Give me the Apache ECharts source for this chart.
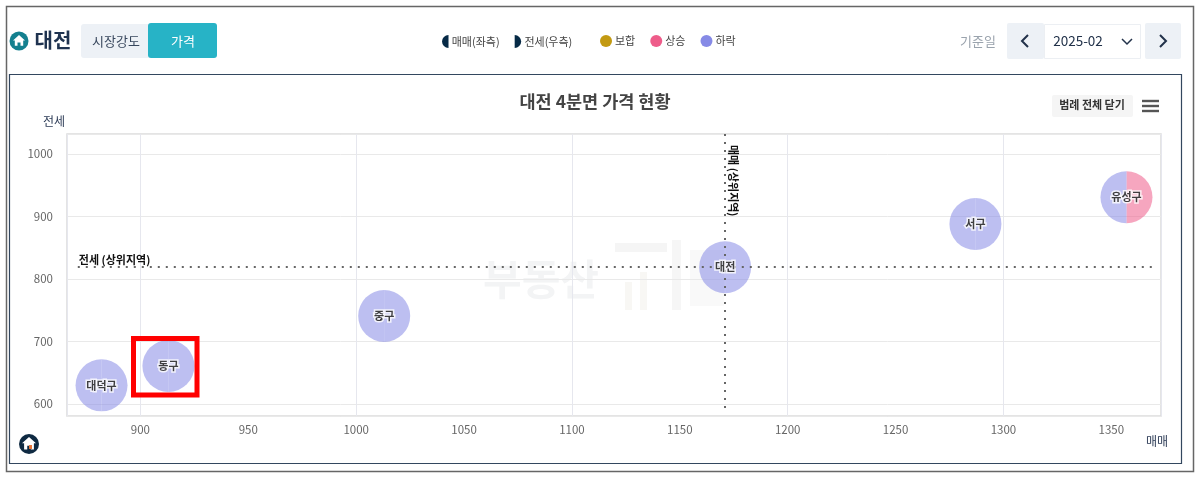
<!DOCTYPE html>
<html>
<head>
<meta charset="utf-8">
<title>대전 4분면 가격 현황</title>
<script src="https://cdn.jsdelivr.net/npm/echarts@6/dist/echarts.min.js"></script>
<style>
html, body { margin: 0; padding: 0; background: #fff; }
#chart { width: 1200px; height: 479px; }
</style>
</head>
<body>
<div id="chart"></div>
<script>
var regionNames = ['대덕구', '동구', '중구', '대전', '서구', '유성구'];
var saleValues = [882, 913, 1013, 1171, 1287, 1357];
var jeonseValues = [630, 661, 741, 819, 888, 931];
var saleStatus = ['하락', '하락', '하락', '하락', '하락', '하락'];
var jeonseStatus = ['하락', '하락', '하락', '하락', '하락', '상승'];
var statusNames = ['보합', '상승', '하락'];
var statusColors = ['#c39a12', '#ee5c8a', '#868ae6'];
var xTicks = [900, 950, 1000, 1050, 1100, 1150, 1200, 1250, 1300, 1350];
var yTicks = [600, 700, 800, 900, 1000];
var saleTop = 1171;
var jeonseTop = 820;

var fontName = '"Noto Sans CJK KR", "Noto Sans", sans-serif';
var navy = '#062a46';

var myChart = echarts.init(document.getElementById('chart'));

// 왼쪽 반원 = 매매, 오른쪽 반원 = 전세
var renderHalf = function(params, api) {
	var c = api.coord([api.value(0), api.value(1)]);
	var isLeft = api.value(2) == 0;
	return {
		type: 'sector',
		shape: {
			cx: c[0],
			cy: c[1],
			r0: 0,
			r: 26,
			startAngle: isLeft ? Math.PI / 2 : -Math.PI / 2,
			endAngle: isLeft ? Math.PI * 1.5 : Math.PI / 2
		},
		style: { fill: api.visual('color'), opacity: 0.55 }
	};
};

var seriesList = [];
for (var s = 0; s < statusNames.length; ++s) {
	var halves = [];
	for (var i = 0; i < regionNames.length; ++i) {
		if (saleStatus[i] == statusNames[s]) halves.push([saleValues[i], jeonseValues[i], 0]);
		if (jeonseStatus[i] == statusNames[s]) halves.push([saleValues[i], jeonseValues[i], 1]);
	}
	seriesList.push({
		name: statusNames[s],
		type: 'custom',
		renderItem: renderHalf,
		itemStyle: { color: statusColors[s] },
		encode: { x: 0, y: 1 },
		data: halves,
		z: 2
	});
}

// 범례용 빈 시리즈
seriesList.push({ name: '매매(좌측)', type: 'scatter', data: [], itemStyle: { color: navy } });
seriesList.push({ name: '전세(우측)', type: 'scatter', data: [], itemStyle: { color: navy } });

var labelData = [];
for (var i = 0; i < regionNames.length; ++i) {
	labelData.push({ name: regionNames[i], value: [saleValues[i], jeonseValues[i]] });
}

seriesList.push({
	name: '지역',
	type: 'scatter',
	symbolSize: 1,
	itemStyle: { color: 'transparent' },
	z: 5,
	label: {
		show: true,
		position: 'inside',
		formatter: '{b}',
		color: '#111',
		fontFamily: fontName,
		fontSize: 11,
		fontWeight: 'bold',
		textBorderColor: '#fff',
		textBorderWidth: 3
	},
	data: labelData,
	markLine: {
		silent: true,
		symbol: 'none',
		animation: false,
		lineStyle: { color: '#666', type: [2, 6], width: 2 },
		label: {
			color: '#111',
			fontFamily: fontName,
			fontSize: 11,
			fontWeight: 'bold'
		},
		data: [
			[
				{ coord: [871, jeonseTop], label: { formatter: '전세 (상위지역)', position: 'insideStartTop', distance: 1 } },
				{ coord: [1371, jeonseTop] }
			],
			[
				{ coord: [saleTop, 1032], label: { formatter: '매매 (상위지역)', position: 'insideStartTop', distance: 3, padding: [0, 0, 0, 8] } },
				{ coord: [saleTop, 584] }
			]
		]
	}
});

var textEl = function(text, x, y, size, color, weight, align) {
	return {
		type: 'text',
		z: 10,
		style: {
			text: text,
			x: x,
			y: y,
			fill: color,
			font: (weight || 'normal') + ' ' + size + 'px ' + fontName,
			align: align || 'center',
			verticalAlign: 'middle'
		}
	};
};
var boxEl = function(x, y, w, h, fill, stroke, lineWidth, radius) {
	return {
		type: 'rect',
		z: -1,
		shape: { x: x, y: y, width: w, height: h, r: radius || 0 },
		style: { fill: fill, stroke: stroke || null, lineWidth: lineWidth || 0 }
	};
};
var lineEl = function(points, color, width) {
	return {
		type: 'polyline',
		z: 10,
		shape: { points: points },
		style: { fill: null, stroke: color, lineWidth: width }
	};
};
var houseEl = function(cx, cy, size, color) {
	var pts = [[0, -1], [1, -0.1], [0.7, -0.1], [0.7, 0.8], [0.25, 0.8], [0.25, 0.25], [-0.25, 0.25], [-0.25, 0.8], [-0.7, 0.8], [-0.7, -0.1], [-1, -0.1]];
	var points = [];
	for (var i = 0; i < pts.length; ++i) {
		points.push([cx + pts[i][0] * size, cy + pts[i][1] * size]);
	}
	return { type: 'polygon', z: 11, shape: { points: points }, style: { fill: color } };
};

var chrome = [
	boxEl(6.5, 6.5, 1187, 465, '#fff', '#666', 1.5),
	boxEl(9.5, 74.5, 1172, 389, '#fff', '#33475f', 1.2),

	// 상단 좌측
	{ type: 'circle', z: 10, shape: { cx: 19, cy: 41, r: 9.5 }, style: { fill: '#14808f' } },
	houseEl(19, 41, 6, '#fff'),
	textEl('대전', 53, 40, 20, '#1f3350', 'bold'),
	boxEl(81, 24, 70, 34, '#edf1f6', null, 0, 3),
	textEl('시장강도', 116, 41, 13, '#37465c'),
	boxEl(148, 23, 69, 35, '#27b3c6', null, 0, 3),
	textEl('가격', 183, 41, 13, '#fff'),

	// 기준일 선택
	textEl('기준일', 978, 41, 13, '#9aa3ad'),
	boxEl(1007, 23, 37, 36, '#edf1f6', null, 0, 2),
	lineEl([[1028, 35], [1022, 41], [1028, 47]], '#22324a', 2),
	boxEl(1044.5, 24.5, 96, 34, '#fff', '#eceff3', 1),
	textEl('2025-02', 1078, 41, 13.5, '#22324a'),
	lineEl([[1122, 39], [1127, 44], [1132, 39]], '#22324a', 1.5),
	boxEl(1145, 23, 36, 36, '#edf1f6', null, 0, 2),
	lineEl([[1160, 35], [1166, 41], [1160, 47]], '#22324a', 2),

	// 차트 우측 상단 버튼
	boxEl(1052, 95, 81, 22, '#f5f5f5', null, 0, 2),
	textEl('범례 전체 닫기', 1092, 105, 11, '#333', 'bold'),
	lineEl([[1142, 101], [1159, 101]], '#555', 2.4),
	lineEl([[1142, 106], [1159, 106]], '#555', 2.4),
	lineEl([[1142, 111], [1159, 111]], '#555', 2.4),

	// 워터마크
	boxEl(615, 243, 52, 9, '#f5f5f5'),
	boxEl(625, 282, 7, 28, '#f8f7f4'),
	boxEl(640, 272, 7, 38, '#f8f7f4'),
	boxEl(672, 240, 9, 70, '#f6f6f6'),
	boxEl(690, 250, 34, 56, '#f9f9f9'),

	// 하단 로고
	{ type: 'circle', z: 10, shape: { cx: 29, cy: 444, r: 10 }, style: { fill: '#0f2a42' } },
	houseEl(29, 444, 7, '#fff'),
	{ type: 'rect', z: 12, shape: { x: 29, y: 445, width: 3, height: 4 }, style: { fill: '#e8763a' } },

	// 강조 박스
	{
		type: 'rect',
		z: 20,
		shape: { x: 133.5, y: 338.5, width: 63.5, height: 56.5 },
		style: { fill: null, stroke: '#f00', lineWidth: 5 }
	}
];
var watermark = textEl('부동산', 541, 279, 42, '#f3f4f5', 'bold');
watermark.z = -1;
chrome.push(watermark);

var plainTick = function(value) {
	return '' + value;
};

var option = {
	animation: false,
	textStyle: { fontFamily: fontName },
	title: {
		text: '대전 4분면 가격 현황',
		left: 590,
		textAlign: 'center',
		top: 88,
		textStyle: { fontFamily: fontName, fontSize: 17.5, fontWeight: 'bold', color: '#444' }
	},
	legend: [
		{
			left: 437,
			top: 30,
			itemGap: 15,
			itemWidth: 7,
			itemHeight: 13,
			selectedMode: false,
			textStyle: { fontSize: 11, color: '#444', padding: [0, 0, 0, -2] },
			data: [
				{ name: '매매(좌측)', icon: 'path://M10,0 A10,10 0 0 0 10,20 Z', itemStyle: { color: navy, opacity: 1 } },
				{ name: '전세(우측)', icon: 'path://M0,0 A10,10 0 0 1 0,20 Z', itemStyle: { color: navy, opacity: 1 } }
			]
		},
		{
			left: 595,
			top: 30,
			itemGap: 15,
			itemWidth: 12,
			itemHeight: 12,
			icon: 'circle',
			selectedMode: false,
			textStyle: { fontSize: 11, color: '#444', padding: [0, 0, 0, -2] },
			data: statusNames
		}
	],
	grid: {
		left: 67,
		right: 39,
		top: 134,
		bottom: 63,
		show: true,
		borderColor: '#dcdcdc',
		borderWidth: 1.5
	},
	xAxis: {
		type: 'value',
		min: 866,
		max: 1373,
		name: '매매',
		nameLocation: 'end',
		nameGap: -15,
		nameMoveOverlap: false,
		nameTextStyle: { color: '#2b3a55', fontSize: 12, verticalAlign: 'top', padding: [19, 0, 0, 0] },
		axisLine: { show: false },
		axisTick: { show: false },
		axisLabel: { customValues: xTicks, formatter: plainTick, color: '#666', fontSize: 11.5, margin: 8 },
		splitLine: { show: true, customValues: xTicks, lineStyle: { color: '#e6e7ee' } }
	},
	yAxis: {
		type: 'value',
		min: 581,
		max: 1032,
		name: '전세',
		nameLocation: 'end',
		nameGap: 7,
		nameTextStyle: { color: '#2b3a55', fontSize: 12, padding: [0, 26, 0, 0] },
		axisLine: { show: false },
		axisTick: { show: false },
		axisLabel: { customValues: yTicks, formatter: plainTick, color: '#666', fontSize: 11.5, margin: 14 },
		splitLine: { show: true, customValues: yTicks, lineStyle: { color: '#e9e9e9' } }
	},
	graphic: { elements: chrome },
	series: seriesList
};

myChart.setOption(option);
</script>
</body>
</html>
